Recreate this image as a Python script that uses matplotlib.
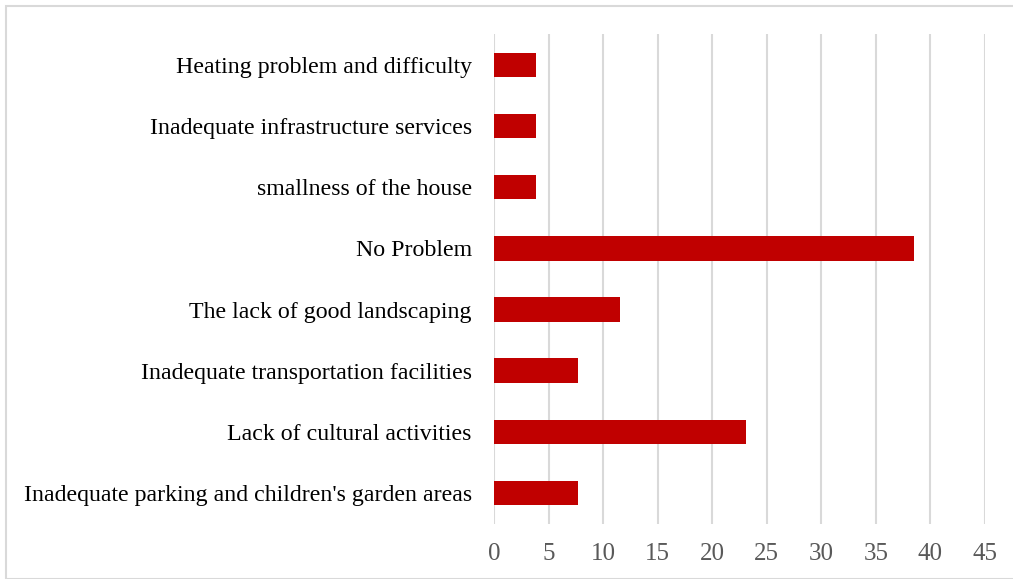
import matplotlib
matplotlib.use("Agg")
import matplotlib.pyplot as plt
from matplotlib.patches import Rectangle

# Share of respondents (%) reporting each housing problem
categories = [
    "Inadequate parking and children's garden areas",
    "Lack of cultural activities",
    "Inadequate transportation facilities",
    "The lack of good landscaping",
    "No Problem",
    "smallness of the house",
    "Inadequate infrastructure services",
    "Heating problem and difficulty",
]
values = [7.69, 23.08, 7.69, 11.54, 38.46, 3.85, 3.85, 3.85]
x_ticks = [0, 5, 10, 15, 20, 25, 30, 35, 40, 45]

plt.rcParams["font.family"] = ["Liberation Serif", "DejaVu Serif"]

fig = plt.figure(figsize=(10.13, 5.79), dpi=100)
ax = fig.add_axes([0.4877, 0.0957, 0.4847, 0.8449])

ypos = range(len(categories))
ax.barh(ypos, values, height=0.4, color="#c00000", zorder=3)

ax.set_xlim(0, 45)
ax.set_ylim(-0.5, len(categories) - 0.5)
ax.set_xticks(x_ticks)
ax.set_xticklabels([str(t) for t in x_ticks])
ax.set_yticks(list(ypos))
ax.set_yticklabels(categories)

ax.grid(axis="x", color="#d9d9d9", linewidth=1.5, zorder=0)
for s in ax.spines.values():
    s.set_visible(False)
ax.tick_params(axis="x", length=0, pad=14, labelsize=18, labelcolor="#595959")
ax.tick_params(axis="y", length=0, pad=16, labelsize=17.2, labelcolor="#000000")

# light outer frame around the chart area
fig.patches.append(Rectangle((6 / 1013, 0), 1.2, 1 - 6 / 579,
                             transform=fig.transFigure, fill=False,
                             edgecolor="#d9d9d9", linewidth=1.5))

fig.savefig("out.png", dpi=100)
